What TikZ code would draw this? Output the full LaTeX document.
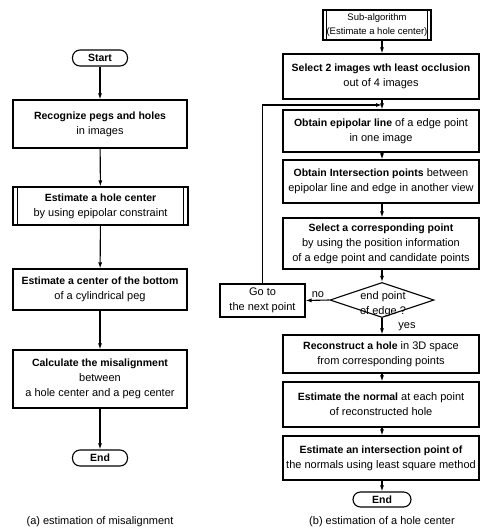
\documentclass[tikz,border=0pt]{standalone}
\usepackage{fontspec}
\setmainfont{Liberation Sans}
\usetikzlibrary{shapes.geometric,arrows.meta}
\newcommand{\mybf}[1]{{\fontsize{10.5}{15}\selectfont\bfseries #1}}
\begin{document}
\begin{tikzpicture}[x=1pt,y=-1pt,
  box/.style={draw, line width=1.1pt, align=center, inner sep=0pt, font=\fontsize{11}{15}\selectfont},
  term/.style={draw, line width=1.1pt, rounded corners=7.5pt, inner sep=0pt, font=\fontsize{10.5}{15}\selectfont\bfseries},
  arr/.style={line width=1.1pt, -{Latex[length=6pt,width=4pt]}},
  thin/.style={line width=1.1pt},
  lbl/.style={font=\fontsize{11}{15}\selectfont, inner sep=0pt, align=center}]
\useasboundingbox (0,0) rectangle (481,531);
% ---------- left flowchart ----------
\node[term, minimum width=55pt, minimum height=16pt] (s1) at (100,58) {Start};
\node[box, minimum width=174pt, minimum height=48pt] (rec) at (100,124) {\mybf{Recognize pegs and holes}\\in images};
\node[box, minimum width=175pt, minimum height=38pt] (eh) at (100.5,206) {\mybf{Estimate a hole center}\\by using epipolar constraint};
\draw[thin] ([xshift=5pt]eh.north west) -- ([xshift=5pt]eh.south west);
\draw[thin] ([xshift=-5pt]eh.north east) -- ([xshift=-5pt]eh.south east);
\node[box, minimum width=174pt, minimum height=41pt] (ec) at (100,289.5) {\mybf{Estimate a center of the bottom}\\of a cylindrical peg};
\node[box, minimum width=174pt, minimum height=58pt] (cal) at (100,379) {\mybf{Calculate the misalignment}\\between\\a hole center and a peg center};
\node[term, minimum width=55pt, minimum height=16pt] (e1) at (100,458) {End};
\node[lbl] (capa) at (100,522) {(a) estimation of misalignment};
\draw[arr] (s1) -- (rec);
\draw[arr] (rec) -- (eh);
\draw[arr] (eh) -- (ec);
\draw[arr] (ec) -- (cal);
\draw[arr] (cal) -- (e1);
% ---------- right flowchart ----------
\coordinate (jn) at (382,105);
\node[box, minimum width=108pt, minimum height=30pt, font=\fontsize{9.5}{14}\selectfont] (sub) at (377,25) {Sub-algorithm\\(Estimate a hole center)};
\draw[thin] ([xshift=4pt]sub.north west) -- ([xshift=4pt]sub.south west);
\draw[thin] ([xshift=-4pt]sub.north east) -- ([xshift=-4pt]sub.south east);
\node[box, minimum width=196pt, minimum height=45pt] (sel) at (381,76.5) {\mybf{Select 2 images wth least occlusion}\\out of 4 images};
\node[box, minimum width=196pt, minimum height=42pt] (epi) at (381,131) {\mybf{Obtain epipolar line} of a edge point\\in one image};
\node[box, minimum width=196pt, minimum height=43pt] (int) at (381,181.5) {\mybf{Obtain Intersection points} between\\epipolar line and edge in another view};
\node[box, minimum width=196pt, minimum height=51pt] (cor) at (381,243.5) {\mybf{Select a corresponding point}\\by using the position information\\of a edge point and candidate points};
\node[diamond, draw, line width=1.1pt, minimum width=104pt, minimum height=35pt, inner sep=0pt] (dec) at (382,300) {};
\node[lbl] (dect) at (383,304) {end point\\of edge ?};
\node[box, minimum width=85pt, minimum height=33pt] (go) at (262.5,300.5) {Go to\\the next point};
\node[box, minimum width=196pt, minimum height=38pt] (rc) at (381,354) {\mybf{Reconstruct a hole} in 3D space\\from corresponding points};
\node[box, minimum width=196pt, minimum height=45pt] (nm) at (381,404.5) {\mybf{Estimate the normal} at each point\\of reconstructed hole};
\node[box, minimum width=196pt, minimum height=44pt] (is) at (381,458) {\mybf{Estimate an intersection point of}\\the normals using least square method};
\node[term, minimum width=58pt, minimum height=15pt] (e2) at (382,499.5) {End};
\node[lbl] (capb) at (382,522) {(b) estimation of a hole center};
\node[lbl] (no) at (318,295) {no};
\node[lbl] (yes) at (407,327) {yes};
\draw[arr] (sub.south -| jn) -- (sel.north -| jn);
\draw[arr] (sel.south -| jn) -- (epi.north -| jn);
\draw[arr] (epi.south -| jn) -- (int.north -| jn);
\draw[arr] (int.south -| jn) -- (cor.north -| jn);
\draw[arr] (cor.south -| jn) -- (dec.north);
\draw[arr] (dec.south) -- (rc.north -| jn);
\draw[arr] (rc.south -| jn) -- (nm.north -| jn);
\draw[arr] (nm.south -| jn) -- (is.north -| jn);
\draw[arr] (is.south -| jn) -- (e2.north);
\draw[arr] (dec.west) -- (go.east);
\draw[arr] (go.north) |- (jn);
\end{tikzpicture}
\end{document}
